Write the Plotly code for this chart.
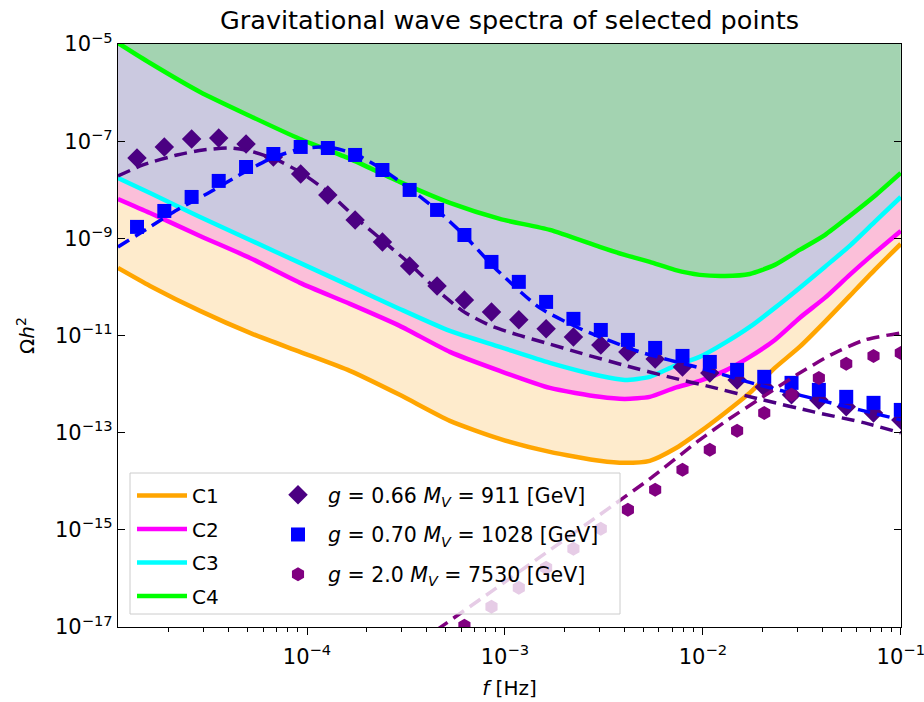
import plotly.graph_objects as go

# ---------------- data ----------------
# Sensitivity curves C1..C4 (Omega h^2) on a common frequency grid [Hz]
f_sens = [1.109e-5, 1.61e-5, 2.88e-5, 5.15e-5, 9.21e-5, 1.648e-4, 2.94e-4, 5.27e-4,
          9.42e-4, 1.686e-3, 3.01e-3, 4.03e-3, 5.39e-3, 7.21e-3, 9.64e-3, 1.291e-2,
          1.726e-2, 2.31e-2, 3.08e-2, 4.13e-2, 5.52e-2, 7.38e-2, 1.0e-1]
C1 = [2.46e-10, 1.05e-10, 3.21e-11, 1.13e-11, 4.60e-12, 1.87e-12, 6.00e-13, 1.75e-13,
      7.45e-14, 4.02e-14, 2.63e-14, 2.39e-14, 2.63e-14, 4.65e-14, 1.04e-13, 2.55e-13,
      6.59e-13, 2.15e-12, 5.82e-12, 1.91e-11, 6.53e-11, 2.24e-10, 7.67e-10]
C2 = [6.47e-9, 3.33e-9, 1.12e-9, 3.95e-10, 1.21e-10, 4.47e-11, 1.58e-11, 4.60e-12,
      1.87e-12, 8.35e-13, 5.46e-13, 4.96e-13, 5.46e-13, 8.35e-13, 1.16e-12, 1.87e-12,
      3.63e-12, 8.11e-12, 2.30e-11, 5.94e-11, 1.77e-10, 5.01e-10, 1.42e-9]
C3 = [1.75e-8, 8.59e-9, 2.75e-9, 9.27e-10, 3.12e-10, 1.05e-10, 3.52e-11, 1.24e-11,
      5.82e-12, 2.73e-12, 1.48e-12, 1.22e-12, 1.41e-12, 2.37e-12, 3.63e-12, 7.04e-12,
      1.50e-11, 3.70e-11, 9.53e-11, 2.58e-10, 6.98e-10, 2.17e-9, 7.11e-9]
C4 = [1.05e-5, 4.06e-6, 1.03e-6, 3.30e-7, 1.109e-7, 4.31e-8, 1.45e-8, 5.35e-9,
      2.51e-9, 1.49e-9, 6.65e-10, 4.55e-10, 3.27e-10, 2.24e-10, 1.77e-10, 1.68e-10,
      1.85e-10, 2.84e-10, 5.77e-10, 1.17e-9, 2.89e-9, 7.45e-9, 2.22e-8]
omega_top = 1e-5  # upper edge of the plotted range, top of the C4 shaded region

# Benchmark points (markers)
f_pts = [1.384e-5, 1.901e-5, 2.612e-5, 3.58e-5, 4.92e-5, 6.76e-5, 9.29e-5, 1.274e-4,
         1.750e-4, 2.404e-4, 3.30e-4, 4.54e-4, 6.24e-4, 8.55e-4, 1.175e-3, 1.614e-3,
         2.218e-3, 3.05e-3, 4.18e-3, 5.74e-3, 7.89e-3, 1.084e-2, 1.489e-2, 2.042e-2,
         2.805e-2, 3.855e-2, 5.30e-2, 7.28e-2, 1.0e-1]
om_g066 = [4.51e-8, 7.60e-8, 1.109e-7, 1.163e-7, 8.75e-8, 4.73e-8, 2.11e-8, 7.81e-9,
           2.39e-9, 8.44e-10, 2.71e-10, 1.05e-10, 5.41e-11, 3.06e-11, 2.10e-11, 1.37e-11,
           9.36e-12, 6.41e-12, 4.60e-12, 3.30e-12, 2.26e-12, 1.70e-12, 1.22e-12, 8.75e-13,
           6.00e-13, 4.73e-13, 3.40e-13, 2.55e-13, 1.83e-13]
om_g070 = [1.72e-9, 3.66e-9, 7.11e-9, 1.52e-8, 2.94e-8, 5.45e-8, 7.60e-8, 7.24e-8,
           5.20e-8, 2.55e-8, 9.91e-9, 3.84e-9, 1.17e-9, 3.27e-10, 1.27e-10, 4.91e-11,
           2.20e-11, 1.30e-11, 8.11e-12, 5.55e-12, 3.80e-12, 2.86e-12, 1.96e-12, 1.41e-12,
           1.06e-12, 7.60e-13, 5.46e-13, 4.11e-13, 2.94e-13]
f_hex = [6.24e-4, 8.55e-4, 1.175e-3, 1.614e-3, 2.218e-3, 3.05e-3, 4.18e-3, 5.74e-3,
         7.89e-3, 1.084e-2, 1.489e-2, 2.042e-2, 2.805e-2, 3.855e-2, 5.30e-2, 7.28e-2, 1.0e-1]
om_g20 = [1.06e-17, 2.61e-17, 6.41e-17, 1.65e-16, 4.06e-16, 1.05e-15, 2.58e-15, 6.66e-15,
          1.72e-14, 4.43e-14, 1.09e-13, 2.55e-13, 6.00e-13, 1.34e-12, 2.61e-12, 3.80e-12,
          4.38e-12]

# Fitted spectra (dashed curves)
f_fit066 = [1.109e-5, 1.483e-5, 2.203e-5, 2.98e-5, 4.08e-5, 5.15e-5, 7.05e-5, 9.21e-5,
            1.276e-4, 1.746e-4, 2.39e-4, 3.31e-4, 4.53e-4, 6.21e-4, 8.49e-4, 1.161e-3,
            1.610e-3, 2.39e-3, 3.94e-3, 7.05e-3, 1.096e-2, 2.01e-2, 3.63e-2, 6.57e-2, 1.0e-1]
fit_g066 = [1.92e-8, 3.24e-8, 5.20e-8, 6.59e-8, 7.24e-8, 6.28e-8, 4.10e-8, 2.32e-8,
            9.02e-9, 2.75e-9, 9.27e-10, 2.97e-10, 8.67e-11, 3.06e-11, 1.58e-11, 1.03e-11,
            7.04e-12, 4.38e-12, 2.48e-12, 1.34e-12, 8.75e-13, 4.73e-13, 2.68e-13, 1.59e-13,
            9.91e-14]
f_fit070 = [1.109e-5, 1.61e-5, 2.203e-5, 3.24e-5, 4.75e-5, 6.50e-5, 9.21e-5, 1.276e-4,
            1.746e-4, 2.39e-4, 3.31e-4, 4.53e-4, 6.21e-4, 9.10e-4, 1.50e-3, 2.48e-3,
            4.80e-3, 9.64e-3, 1.91e-2, 3.51e-2, 6.21e-2, 1.0e-1]
fit_g070 = [6.65e-10, 1.72e-9, 3.84e-9, 9.02e-9, 2.22e-8, 4.31e-8, 6.92e-8, 7.60e-8,
            5.45e-8, 2.68e-8, 1.04e-8, 3.84e-9, 1.17e-9, 2.24e-10, 3.70e-11, 1.30e-11,
            4.60e-12, 2.15e-12, 9.63e-13, 5.20e-13, 2.94e-13, 1.83e-13]
f_fit20 = [4.53e-4, 8.49e-4, 1.610e-3, 3.01e-3, 5.39e-3, 9.64e-3, 1.335e-2, 2.01e-2,
           2.98e-2, 4.43e-2, 6.57e-2, 1.0e-1]
fit_g20 = [8.75e-18, 5.30e-17, 3.36e-16, 2.04e-15, 1.12e-14, 7.11e-14, 1.83e-13, 5.46e-13,
           1.55e-12, 3.99e-12, 8.11e-12, 1.13e-11]

x_major = [1e-4, 1e-3, 1e-2, 1e-1]
x_major_text = ["10<sup>\u22124</sup>", "10<sup>\u22123</sup>", "10<sup>\u22122</sup>", "10<sup>\u22121</sup>"]
y_major = [1e-5, 1e-7, 1e-9, 1e-11, 1e-13, 1e-15, 1e-17]
y_major_text = ["10<sup>\u22125</sup>", "10<sup>\u22127</sup>", "10<sup>\u22129</sup>",
                "10<sup>\u221211</sup>", "10<sup>\u221213</sup>", "10<sup>\u221215</sup>",
                "10<sup>\u221217</sup>"]
x_minor = [m * d for d in (1e-5, 1e-4, 1e-3, 1e-2) for m in range(2, 10)]

# ---------------- styles ----------------
FONT = "DejaVu Sans"
fill_green = "#a3d3b1"
fill_lav = "#cbc9e0"
fill_pink = "#fbbfd9"
fill_orange = "#feebcc"
col_c1, col_c2, col_c3, col_c4 = "#ffa500", "#ff00ff", "#00ffff", "#00ff00"
col_066, col_070, col_20 = "#4b0082", "#0000ff", "#800080"
DASH = "13px,7px"
SMOOTH = dict(shape="spline", smoothing=0.6)

fig = go.Figure()

# shaded bands (top -> C4 -> C3 -> C2 -> C1)
fig.add_trace(go.Scatter(x=f_sens, y=[omega_top] * len(f_sens), mode="lines",
                         line=dict(width=0), showlegend=False, hoverinfo="skip"))
for yv, fc in ((C4, fill_green), (C3, fill_lav), (C2, fill_pink), (C1, fill_orange)):
    fig.add_trace(go.Scatter(x=f_sens, y=yv, mode="lines", line=dict(width=0, **SMOOTH),
                             fill="tonexty", fillcolor=fc, showlegend=False,
                             hoverinfo="skip"))

# sensitivity curves
for name, yv, c in (("C1", C1, col_c1), ("C2", C2, col_c2), ("C3", C3, col_c3), ("C4", C4, col_c4)):
    fig.add_trace(go.Scatter(x=f_sens, y=yv, mode="lines", name=name,
                             line=dict(color=c, width=4.5, **SMOOTH), legend="legend",
                             legendgroup=name))

# benchmark points + fits
fig.add_trace(go.Scatter(x=f_pts, y=om_g066, mode="markers",
                         name="<i>g</i> = 0.66 <i>M<sub>V</sub></i> = 911 [GeV]",
                         marker=dict(symbol="diamond", size=15, color=col_066),
                         legend="legend2", legendgroup="g066"))
fig.add_trace(go.Scatter(x=f_fit066, y=fit_g066, mode="lines", showlegend=False,
                         line=dict(color=col_066, width=3.5, dash=DASH, **SMOOTH)))
fig.add_trace(go.Scatter(x=f_pts, y=om_g070, mode="markers",
                         name="<i>g</i> = 0.70 <i>M<sub>V</sub></i> = 1028 [GeV]",
                         marker=dict(symbol="square", size=14, color=col_070),
                         legend="legend2", legendgroup="g070"))
fig.add_trace(go.Scatter(x=f_fit070, y=fit_g070, mode="lines", showlegend=False,
                         line=dict(color=col_070, width=3.5, dash=DASH, **SMOOTH)))
fig.add_trace(go.Scatter(x=f_hex, y=om_g20, mode="markers",
                         name="<i>g</i> = 2.0 <i>M<sub>V</sub></i> = 7530 [GeV]",
                         marker=dict(symbol="hexagon", size=14, color=col_20),
                         legend="legend2", legendgroup="g20"))
fig.add_trace(go.Scatter(x=f_fit20, y=fit_g20, mode="lines", showlegend=False,
                         line=dict(color=col_20, width=3.5, dash=DASH, **SMOOTH)))

W, H = 924, 702
L, R, T, B = 118, 23, 44, 75
pw, ph = W - L - R, H - T - B


def px_x(p):
    return (p - L) / pw


def px_y(p):
    return (H - B - p) / ph


fig.update_layout(
    width=W, height=H,
    margin=dict(l=L, r=R, t=T, b=B, autoexpand=False),
    paper_bgcolor="white", plot_bgcolor="white",
    font=dict(family=FONT, size=20, color="#000000"),
    title=dict(text="Gravitational wave spectra of selected points",
               x=0.5, xref="paper", xanchor="center",
               y=1 - 20 / H, yref="container", yanchor="middle",
               font=dict(size=25.5)),
    xaxis=dict(type="log", range=[-4.955, -0.999], showgrid=False, zeroline=False,
               automargin=False,
               showline=True, linecolor="black", linewidth=1.2, mirror=True,
               ticks="outside", ticklen=7, tickwidth=1.2, tickcolor="black",
               tickvals=x_major, ticktext=x_major_text,
               tickfont=dict(size=21), ticklabelstandoff=4, ticklabeloverflow="allow",
               minor=dict(tickvals=x_minor, ticks="outside", ticklen=4,
                          tickwidth=1, tickcolor="black", showgrid=False),
               title=dict(text="<i>f</i> [Hz]", font=dict(size=20), standoff=12)),
    yaxis=dict(type="log", range=[-17, -5], showgrid=False, zeroline=False,
               automargin=False,
               showline=True, linecolor="black", linewidth=1.2, mirror="ticks",
               ticks="inside", ticklen=7, tickwidth=1.2, tickcolor="black",
               tickvals=y_major, ticktext=y_major_text,
               tickfont=dict(size=21), ticklabeloverflow="allow",
               title=dict(text="\u03a9<i>h</i><sup>2</sup>", font=dict(size=20), standoff=14)),
    legend=dict(x=px_x(132), y=px_y(476), xanchor="left", yanchor="top",
                bgcolor="rgba(0,0,0,0)", borderwidth=0, font=dict(size=20),
                tracegroupgap=4.5, itemwidth=50),
    legend2=dict(x=px_x(268), y=px_y(475), xanchor="left", yanchor="top",
                 bgcolor="rgba(0,0,0,0)", borderwidth=0, font=dict(size=20.5),
                 tracegroupgap=10, itemwidth=50),
    shapes=[dict(type="rect", xref="paper", yref="paper",
                 x0=px_x(130), x1=px_x(620), y0=px_y(614), y1=px_y(473),
                 fillcolor="rgba(255,255,255,0.8)",
                 line=dict(color="#cccccc", width=1), layer="above")],
)

fig.write_html("out.html")
